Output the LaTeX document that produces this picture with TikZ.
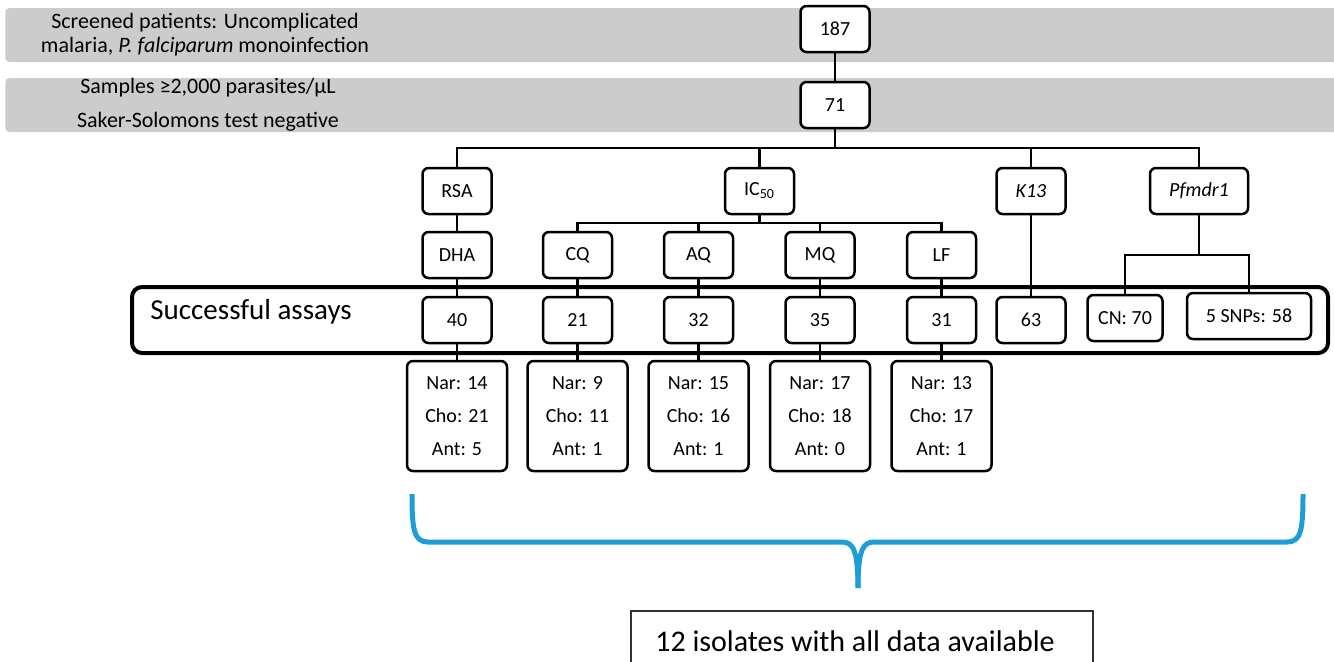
\documentclass[tikz,border=0pt]{standalone}
\usepackage{fontspec}
\setmainfont{Carlito}
\usepackage{xcolor}
\usetikzlibrary{positioning,backgrounds,calc}
\definecolor{braceblue}{RGB}{30,157,216}

\begin{document}
\begin{tikzpicture}[
    x=0.5pt, y=-0.5pt,
    every node/.style={font=\fontsize{10}{12}\selectfont},
    band/.style={rectangle, fill=black!20, rounded corners=2pt, minimum width=680pt, minimum height=27pt, anchor=west},
    box/.style={rectangle, draw=black, line width=1.25pt, fill=white, rounded corners=3pt, minimum height=23pt, minimum width=34.5pt, inner sep=2pt},
    tally/.style={box, minimum width=50pt, minimum height=55pt, align=center, font=\fontsize{10}{16.5}\selectfont},
    link/.style={line width=1.25pt, draw=black},
    curly/.style={line width=2.5pt, draw=braceblue}
]
\useasboundingbox (0,0) rectangle (1334,661);
\clip (0,0) rectangle (1334,661);

% Screening bands
\node[band] (screenband) at (5,35) {};
\node[band] (sampleband) at (5,105) {};
\node[align=center, font=\fontsize{11}{12}\selectfont] (screentext) at (205,35) {Screened patients: Uncomplicated\\malaria, \textit{P. falciparum} monoinfection};
\node[align=center, font=\fontsize{11}{17}\selectfont] (sampletext) at (208,105) {Samples ≥2,000 parasites/μL\\Saker-Solomons test negative};

% Patient counts
\node[box] (n187) at (835,29) {187};
\node[box] (n71) at (835,105) {71};

% Assay types
\node[box] (rsa) at (457,191) {RSA};
\node[box] (ic) at (759.5,191) {IC\textsubscript{50}};
\node[box] (kt) at (1031,191) {\textit{K13}};
\node[box, minimum width=49pt] (pfmdr) at (1199,191) {\textit{Pfmdr1}};

% Drugs
\node[box] (dha) at (457,255) {DHA};
\node[box] (cq) at (577.5,255) {CQ};
\node[box] (aq) at (698.5,255) {AQ};
\node[box] (mq) at (820,255) {MQ};
\node[box] (lf) at (941.5,255) {LF};

% Successful assays
\node[anchor=base west, inner sep=0pt, font=\fontsize{14.5}{16}\selectfont] (succtext) at (150,319) {Successful assays};
\node[box] (n40) at (457,320) {40};
\node[box] (n21) at (577.5,320) {21};
\node[box] (n32) at (698.5,320) {32};
\node[box] (n35) at (820,320) {35};
\node[box] (n31) at (941.5,320) {31};
\node[box] (n63) at (1031,320) {63};
\node[box, minimum width=37.5pt] (cn) at (1125,318) {CN: 70};
\node[box, minimum width=62pt] (snp) at (1249,316) {5 SNPs: 58};

% Per-site tallies
\node[tally] (tdha) at (457,416) {Nar: 14\\Cho: 21\\Ant: 5};
\node[tally] (tcq) at (577.5,416) {Nar: 9\\Cho: 11\\Ant: 1};
\node[tally] (taq) at (698.5,416) {Nar: 15\\Cho: 16\\Ant: 1};
\node[tally] (tmq) at (820,416) {Nar: 17\\Cho: 18\\Ant: 0};
\node[tally] (tlf) at (941.5,416) {Nar: 13\\Cho: 17\\Ant: 1};

% Result box
\node[draw=black!80, line width=0.6pt, minimum width=231pt, minimum height=30pt, font=\fontsize{15}{17}\selectfont] (alldata) at (862,641) {12 isolates with all data available\hspace*{7pt}};

% Connections
\coordinate (split) at (835,148);
\coordinate (icsplit) at (759.5,223);
\coordinate (pfsplit) at (1199,255);
\draw[link] (n187) -- (n71);
\draw[link] (n71) -- (split);
\draw[link] (rsa) |- (split) -| (pfmdr);
\draw[link] (ic) -- (ic |- split);
\draw[link] (kt) -- (kt |- split);

\draw[link] (rsa) -- (dha);
\draw[link] (ic) -- (icsplit);
\draw[link] (cq) |- (icsplit) -| (lf);
\draw[link] (aq) -- (aq |- icsplit);
\draw[link] (mq) -- (mq |- icsplit);

\draw[link] (dha) -- (n40) -- (tdha);
\draw[link] (cq) -- (n21) -- (tcq);
\draw[link] (aq) -- (n32) -- (taq);
\draw[link] (mq) -- (n35) -- (tmq);
\draw[link] (lf) -- (n31) -- (tlf);
\draw[link] (kt) -- (n63);
\draw[link] (pfmdr) -- (pfsplit);
\draw[link] (cn) |- (pfsplit) -| (snp);

% Brace over all assays
\coordinate (braceL) at (412,494);
\coordinate (braceR) at (1303,494);
\coordinate (braceTip) at (858,588);
\draw[curly] (braceL) .. controls (412,530) and (414,542) .. (428,542) -- (842,542) .. controls (853,542) and (858,550) .. (braceTip);
\draw[curly] (braceR) .. controls (1303,530) and (1301,542) .. (1287,542) -- (874,542) .. controls (863,542) and (858,550) .. (braceTip);

\begin{scope}[on background layer]
    \node[draw=black, line width=2pt, rounded corners=5pt, minimum width=598pt, minimum height=33pt] (success) at (730,320) {};
\end{scope}

\end{tikzpicture}
\end{document}
